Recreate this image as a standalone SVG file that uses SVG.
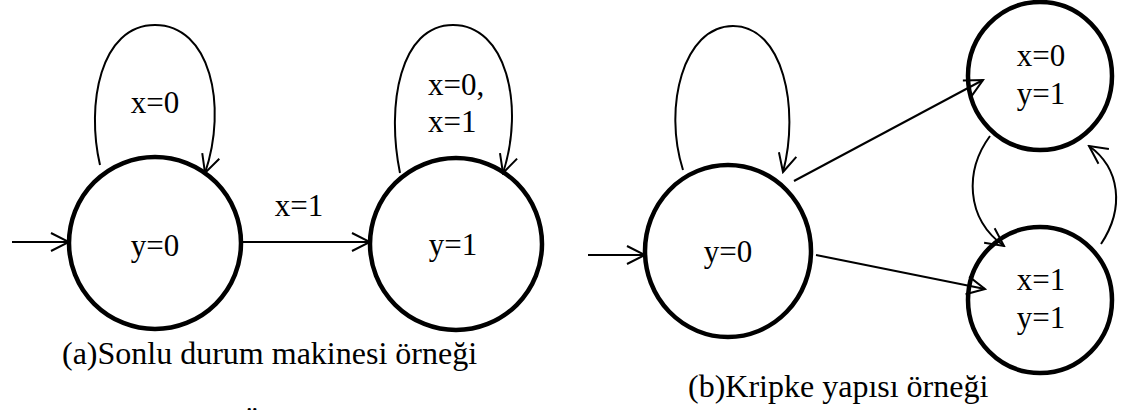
<svg xmlns="http://www.w3.org/2000/svg" width="1126" height="410" viewBox="0 0 1126 410">
  <style>
    .node { fill: #fff; stroke: #000; stroke-width: 4.5; }
    .edge { fill: none; stroke: #000; stroke-width: 2; marker-end: url(#arr); }
    .lbl { font-family: "Liberation Serif", "Times New Roman", serif; font-size: 31px; fill: #000; }
    .mid { text-anchor: middle; }
    .cap { font-family: "Liberation Serif", "Times New Roman", serif; font-size: 32px; fill: #000; }
  </style>
  <defs>
    <marker id="arr" markerUnits="userSpaceOnUse" viewBox="-22 -12 24 24" markerWidth="24" markerHeight="24" refX="0" refY="0" orient="auto">
      <path d="M-18,-9 L0,0 L-18,9" fill="none" stroke="#000" stroke-width="2"/>
    </marker>
  </defs>
  <rect width="1126" height="410" fill="#fff"/>

  <!-- Panel (a) nodes -->
  <g id="a-y0">
    <circle class="node" cx="155" cy="243" r="86"/>
    <text class="lbl mid" x="155" y="256">y=0</text>
  </g>
  <g id="a-y1">
    <circle class="node" cx="456" cy="244" r="86"/>
    <text class="lbl mid" x="453" y="255">y=1</text>
  </g>

  <!-- Panel (b) nodes -->
  <g id="b-y0">
    <ellipse class="node" cx="728" cy="251" rx="83" ry="86"/>
    <text class="lbl mid" x="728" y="262">y=0</text>
  </g>
  <g id="b-x0y1">
    <ellipse class="node" cx="1040" cy="76" rx="72" ry="74"/>
    <text class="lbl mid" x="1041" y="66">x=0</text>
    <text class="lbl mid" x="1041" y="104">y=1</text>
  </g>
  <g id="b-x1y1">
    <ellipse class="node" cx="1040" cy="300" rx="72" ry="73"/>
    <text class="lbl mid" x="1041" y="290">x=1</text>
    <text class="lbl mid" x="1041" y="328">y=1</text>
  </g>

  <!-- Connectors -->
  <g id="connectors">
    <path class="edge" d="M12,242 L69,242"/>
    <path class="edge" d="M241,242 L370,242"/>
    <path class="edge" d="M100,165 C86,105 100,25 155,25 C210,25 228,105 205,173"/>
    <path class="edge" d="M400,173 C386,105 400,25 453,25 C506,25 525,105 503,173"/>

    <path class="edge" d="M588,255 L645,255"/>
    <path class="edge" d="M683,170 C663,108 683,26 733,26 C783,26 800,108 783,172"/>
    <path class="edge" d="M794,181 L983,80"/>
    <path class="edge" d="M816,255 L985,289"/>
    <path class="edge" d="M990,136 C965,170 965,218 1004,246"/>
    <path class="edge" d="M1101,244 C1125,208 1120,168 1089,146"/>
  </g>

  <!-- Labels -->
  <g id="labels">
    <text class="lbl mid" x="155" y="113">x=0</text>
    <text class="lbl mid" x="299" y="216">x=1</text>
    <text class="lbl" x="428" y="95">x=0,</text>
    <text class="lbl" x="428" y="132">x=1</text>
  </g>

  <g id="captions">
    <text class="cap" x="62" y="364">(a)Sonlu durum makinesi örneği</text>
    <text class="cap" x="688" y="397">(b)Kripke yapısı örneği</text>
    <text class="cap mid" x="252" y="434">Ö</text>
  </g>
</svg>
